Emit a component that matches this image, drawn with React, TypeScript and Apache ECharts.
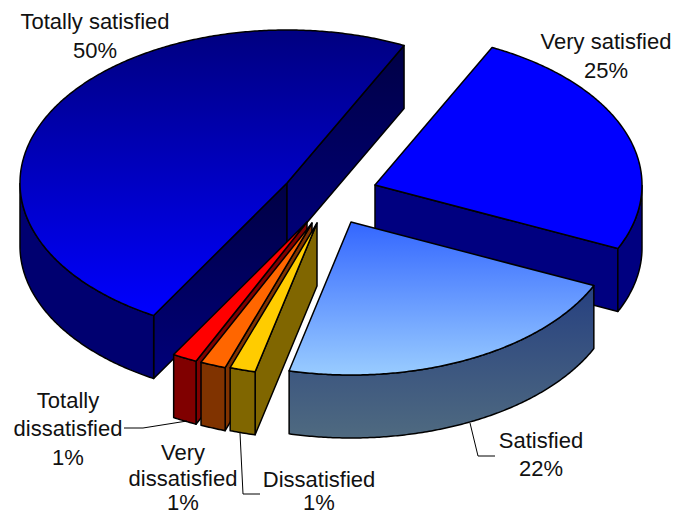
import React, { useEffect, useRef } from "react";
import * as echarts from "echarts";

// Clockwise from the back-right edge of the pie.
const categories = ["Very satisfied", "Satisfied", "Dissatisfied", "Very dissatisfied", "Totally dissatisfied", "Totally satisfied"];
// Percentages as printed on the chart's labels.
const printedPercent = [25, 22, 1, 1, 1, 50];
// Share of the circle each slice visibly sweeps.
const sweepShare = [24.6, 21.9, 1.55, 1.55, 1.5, 48.9];
// Painter's order: indexes into the arrays above.
const drawOrder = [5, 0, 1, 4, 3, 2];

const START_ANGLE = 64;
const RX = 267;
const RY = 153;
const DEPTH = 63;
const CX = 320;
const CY = 205;
// Explosion of each slice from the pie centre, in pixels.
const explode = [[55, -20], [31, 17], [-3, 18], [-8, 18], [-13, 17], [-33, -22]];

const lin = (a: string, b: string) =>
  new echarts.graphic.LinearGradient(0, 0, 0, 1, [{ offset: 0, color: a }, { offset: 1, color: b }]);

const topFill: any[] = [
  "#0000ff",
  lin("#3366ff", "#99ccff"),
  "#ffcc00",
  "#ff6600",
  "#ff0000",
  lin("#000080", "#0000ff"),
];
const rimFill: any[] = [
  "#000080",
  lin("#264080", "#4f6a80"),
  "#806600",
  "#803300",
  "#800000",
  "#000070",
];
const wallFill: any[] = [
  "#000080",
  "#264080",
  "#806600",
  "#803300",
  "#800000",
  lin("#000045", "#00007a"),
];

const labelSpecs = [
  { x: 606, y: [41, 70], lines: [categories[0], `${printedPercent[0]}%`] },
  { x: 541, y: [440, 468], lines: [categories[1], `${printedPercent[1]}%`] },
  { x: 319, y: [479, 502], lines: [categories[2], `${printedPercent[2]}%`] },
  { x: 183, y: [452, 478, 502], lines: ["Very", "dissatisfied", `${printedPercent[3]}%`] },
  { x: 68, y: [400, 428, 457], lines: ["Totally", "dissatisfied", `${printedPercent[4]}%`] },
  { x: 95, y: [21, 50], lines: [categories[5], `${printedPercent[5]}%`] },
];
const leaders = [
  [[470, 423], [478, 456], [495, 456]],
  [[240, 433], [243, 494], [260, 494]],
  [[124, 428], [143, 428], [187, 421]],
];

const rad = (d: number) => (d * Math.PI) / 180;

function App() {
  const ref = useRef<HTMLDivElement>(null);
  useEffect(() => {
    const chart = echarts.init(ref.current!, undefined, { renderer: "svg" });
    const total = sweepShare.reduce((a, b) => a + b, 0);
    const starts: number[] = [];
    let acc = START_ANGLE;
    sweepShare.forEach((v) => {
      starts.push(acc);
      acc -= (v / total) * 360;
    });

    const renderItem = (_: any, api: any) => {
      const i = api.value(0);
      const sweep = (api.value(1) / total) * 360;
      const a0 = starts[i];
      const a1 = a0 - sweep;
      const ax = CX + explode[i][0];
      const ay = CY + explode[i][1];
      const pt = (d: number) => [ax + RX * Math.cos(rad(d)), ay - RY * Math.sin(rad(d))];
      const n = Math.ceil(sweep * 2);
      const arc: number[][] = [];
      const arcAngles: number[] = [];
      for (let k = 0; k <= n; k++) {
        const d = a0 - (sweep * k) / n;
        arcAngles.push(d);
        arc.push(pt(d));
      }
      const apex = [ax, ay];
      const stroke = { stroke: "#000", lineWidth: 1.5, lineJoin: "round" };
      const down = (p: number[]) => [p[0], p[1] + DEPTH];
      const children: any[] = [];
      const mid = pt((a0 + a1) / 2);
      [pt(a0), pt(a1)].forEach((p) => {
        const lineY = ay + ((p[1] - ay) / (p[0] - ax)) * (mid[0] - ax);
        if (mid[1] < lineY) {
          children.push({
            type: "polygon",
            shape: { points: [apex, p, down(p), down(apex)] },
            style: { fill: wallFill[i], ...stroke },
          });
        }
      });
      const lower = arc.filter((_p, k) => Math.sin(rad(arcAngles[k])) <= 0.002);
      if (lower.length > 1) {
        children.push({
          type: "polygon",
          shape: { points: [...lower, ...lower.slice().reverse().map(down)] },
          style: { fill: rimFill[i], ...stroke },
        });
      }
      children.push({
        type: "polygon",
        shape: { points: [apex, ...arc] },
        style: { fill: topFill[i], ...stroke },
      });
      return { type: "group", children };
    };

    chart.setOption({
      animation: false,
      backgroundColor: "#fff",
      series: [
        {
          type: "custom",
          coordinateSystem: "none",
          silent: true,
          clip: false,
          renderItem,
          data: drawOrder.map((i) => [i, sweepShare[i]]),
        },
      ],
      graphic: [
        ...leaders.map((points) => ({
          type: "polyline",
          z: 10,
          shape: { points },
          style: { fill: "none", stroke: "#000", lineWidth: 1 },
        })),
        ...labelSpecs.flatMap((l) =>
          l.lines.map((text, k) => ({
            type: "text",
            z: 11,
            x: l.x,
            y: l.y[k],
            style: {
              text,
              fill: "#111",
              font: '22px "Liberation Sans", Arial, sans-serif',
              lineHeight: 20,
              align: "center",
              verticalAlign: "middle",
            },
          }))
        ),
      ],
    });
    return () => chart.dispose();
  }, []);
  return <div ref={ref} style={{ position: "absolute", left: 0, top: 0, width: 685, height: 515 }} />;
}

export default App;
